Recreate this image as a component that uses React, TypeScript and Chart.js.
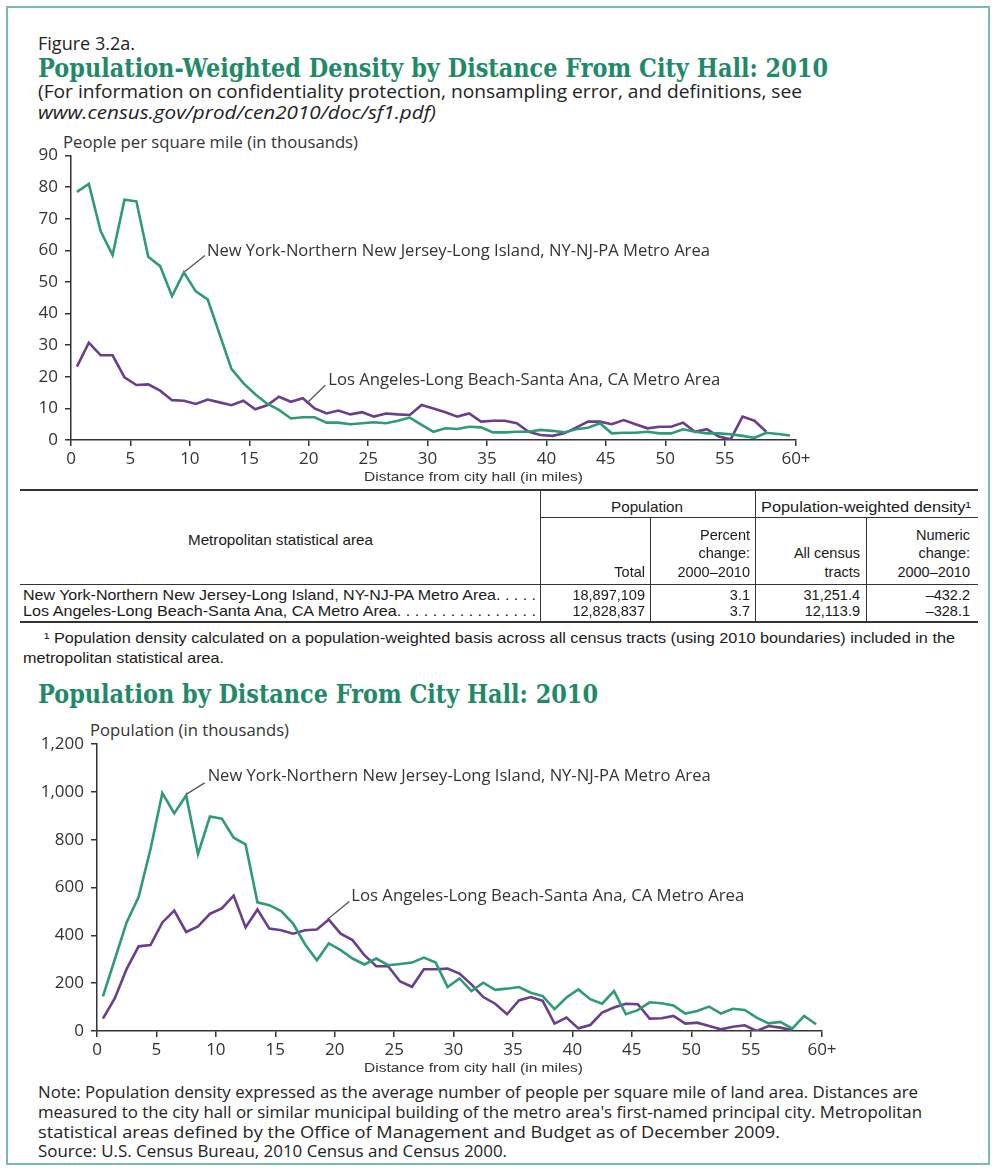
import React, { useEffect, useLayoutEffect, useRef } from "react";
import { Chart, registerables } from "chart.js";

Chart.register(...registerables);

// ---------- data ----------
const distances = [
  0.5, 1.5, 2.5, 3.5, 4.5, 5.5, 6.5, 7.5, 8.5, 9.5,
  10.5, 11.5, 12.5, 13.5, 14.5, 15.5, 16.5, 17.5, 18.5, 19.5,
  20.5, 21.5, 22.5, 23.5, 24.5, 25.5, 26.5, 27.5, 28.5, 29.5,
  30.5, 31.5, 32.5, 33.5, 34.5, 35.5, 36.5, 37.5, 38.5, 39.5,
  40.5, 41.5, 42.5, 43.5, 44.5, 45.5, 46.5, 47.5, 48.5, 49.5,
  50.5, 51.5, 52.5, 53.5, 54.5, 55.5, 56.5, 57.5, 58.5, 59.5,
  60.5,
];

// People per square mile (thousands)
const nyDensity = [
  78.5, 81, 66, 58.5, 76, 75.5, 58, 55, 45.5, 53,
  47, 44.5, 33.5, 22.5, 18, 14.5, 11.5, 9.5, 6.8, 7.2,
  7.2, 5.5, 5.5, 5.0, 5.3, 5.6, 5.3, 6.1, 7.1, 4.8,
  2.6, 3.7, 3.5, 4.2, 4.0, 2.4, 2.4, 2.6, 2.6, 3.2,
  2.9, 2.4, 3.4, 3.9, 5.3, 2.1, 2.3, 2.3, 2.6, 2.1,
  2.1, 3.4, 2.6, 2.1, 2.1, 1.8, 1.3, 0.7, 2.3, 1.9,
  1.4,
];
const laDensity = [
  23.2, 30.8, 26.8, 26.8, 19.8, 17.4, 17.6, 15.6, 12.6, 12.4,
  11.4, 12.8, 11.9, 11.0, 12.4, 9.7, 11.0, 13.7, 12.1, 13.2,
  10.0, 8.4, 9.3, 8.1, 8.8, 7.4, 8.4, 8.1, 7.9, 11.1,
  10.0, 8.8, 7.4, 8.4, 5.8, 6.1, 6.1, 5.3, 2.6, 1.6,
  1.3, 2.1, 3.9, 5.8, 5.8, 5.0, 6.3, 5.0, 3.7, 4.2,
  4.2, 5.5, 2.6, 3.4, 1.1, 0.2, 7.4, 6.1, 2.6,
];

// Population (thousands)
const nyPopulation = [
  145, 300, 455, 560, 760, 995, 910, 985, 740, 897,
  888, 808, 780, 538, 526, 501, 449, 363, 296, 366,
  338, 303, 278, 303, 275, 280, 286, 307, 286, 184,
  220, 167, 202, 172, 177, 184, 160, 146, 91, 140,
  174, 133, 114, 167, 70, 87, 120, 116, 107, 73,
  84, 102, 73, 93, 88, 56, 32, 38, 10, 63,
  28,
];
const laPopulation = [
  52, 137, 260, 354, 359, 454, 503, 414, 437, 490,
  513, 566, 433, 508, 428, 421, 407, 421, 424, 466,
  407, 380, 317, 271, 271, 207, 185, 258, 258, 261,
  240, 195, 142, 114, 70, 128, 142, 126, 31, 56,
  11, 25, 77, 98, 114, 112, 52, 53, 63, 31,
  35, 21, 7, 18, 24, 0, 21, 14, 3,
];

const xTicks = [0, 5, 10, 15, 20, 25, 30, 35, 40, 45, 50, 55, 61];
const xTickLabels = ["0", "5", "10", "15", "20", "25", "30", "35", "40", "45", "50", "55", "60+"];

const nyName = "New York-Northern New Jersey-Long Island, NY-NJ-PA Metro Area";
const laName = "Los Angeles-Long Beach-Santa Ana, CA Metro Area";

// ---------- styles ----------
const GREEN = "#2d9a78";
const PURPLE = "#6a3d8d";
const AXIS = "#333333";
const TITLE_GREEN = "#1f8a6a";
const SANS = "'Open Sans', 'DejaVu Sans', sans-serif";
const NARROW = "'Liberation Sans Narrow', 'Liberation Sans', Arial, sans-serif";
const SERIF = "'DejaVu Serif', serif";

type FitProps = {
  x: number;
  cy: number;
  w?: number;
  align?: "left" | "right" | "center";
  size: number;
  family?: string;
  weight?: string | number;
  italic?: boolean;
  color?: string;
  children: React.ReactNode;
};

function Fit({ x, cy, w, align = "left", size, family = SANS, weight = 400, italic = false, color = "#222", children }: FitProps) {
  const ref = useRef<HTMLDivElement>(null);
  useLayoutEffect(() => {
    const el = ref.current;
    if (!el) return;
    el.style.transform = "none";
    const nw = el.getBoundingClientRect().width;
    if (!(nw > 0)) return;
    const s = w ? w / nw : 1;
    const fw = nw * s;
    const left = align === "left" ? x : align === "right" ? x - fw : x - fw / 2;
    el.style.left = `${left}px`;
    el.style.transform = `scaleX(${s})`;
  });
  return (
    <div
      ref={ref}
      style={{
        position: "absolute",
        left: x,
        top: cy - size * 0.6,
        width: "max-content",
        whiteSpace: "nowrap",
        fontSize: size,
        lineHeight: `${size * 1.2}px`,
        fontFamily: family,
        fontWeight: weight as any,
        fontStyle: italic ? "italic" : "normal",
        color,
        transformOrigin: "left center",
      }}
    >
      {children}
    </div>
  );
}

type Leader = {
  idx: number;
  ds: number;
  sx: number; sy: number;
  ex: number; ey: number;
  tx: number; ty: number;
  tw: number;
  text: string;
};

function leaderPlugin(items: Leader[]) {
  return {
    id: "leaders",
    afterDatasetsDraw(chart: any) {
      const ctx = chart.ctx as CanvasRenderingContext2D;
      const xs = chart.scales.x;
      const ys = chart.scales.y;
      items.forEach((it) => {
        const pt = chart.data.datasets[it.ds].data[it.idx];
        const px = xs.getPixelForValue(pt.x);
        const py = ys.getPixelForValue(pt.y);
        ctx.save();
        ctx.strokeStyle = "#555";
        ctx.lineWidth = 1.3;
        ctx.beginPath();
        ctx.moveTo(px + it.sx, py + it.sy);
        ctx.lineTo(px + it.ex, py + it.ey);
        ctx.stroke();
        ctx.font = `16px ${SANS}`;
        ctx.fillStyle = "#333";
        ctx.textBaseline = "middle";
        ctx.textAlign = "left";
        const m = ctx.measureText(it.text).width;
        ctx.translate(px + it.tx, py + it.ty);
        ctx.scale(it.tw / m, 1);
        ctx.fillText(it.text, 0, 0);
        ctx.restore();
      });
    },
  };
}

type ChartSpec = {
  ny: number[];
  la: number[];
  yMax: number;
  yStep: number;
  yWidth: number;
  xHeight: number;
  padding: { left: number; right: number; top: number; bottom: number };
  yFormat: (v: number) => string;
  leaders: Leader[];
};

function LineChart({ spec, left, top, width, height }: { spec: ChartSpec; left: number; top: number; width: number; height: number }) {
  const ref = useRef<HTMLCanvasElement>(null);
  useEffect(() => {
    if (!ref.current) return;
    const tickFont = { family: SANS, size: 17 };
    const chart = new Chart(ref.current, {
      type: "line",
      data: {
        datasets: [
          {
            data: distances.map((d, i) => ({ x: d, y: spec.ny[i] })),
            borderColor: GREEN,
            borderWidth: 2.6,
            pointRadius: 0,
            tension: 0,
            fill: false,
          },
          {
            data: spec.la.map((v, i) => ({ x: distances[i], y: v })),
            borderColor: PURPLE,
            borderWidth: 2.6,
            pointRadius: 0,
            tension: 0,
            fill: false,
          },
        ],
      },
      options: {
        animation: false,
        responsive: false,
        maintainAspectRatio: false,
        devicePixelRatio: 1,
        layout: { padding: spec.padding },
        plugins: { legend: { display: false }, tooltip: { enabled: false } },
        scales: {
          x: {
            type: "linear",
            min: 0,
            max: 61,
            afterBuildTicks: (s: any) => {
              s.ticks = xTicks.map((v) => ({ value: v }));
            },
            afterFit: (s: any) => {
              s.height = spec.xHeight;
            },
            ticks: {
              autoSkip: false,
              maxRotation: 0,
              font: tickFont,
              color: "#333",
              padding: 3,
              callback: (v: any) => {
                const i = xTicks.indexOf(Number(v));
                return i >= 0 ? xTickLabels[i] : "";
              },
            },
            grid: { display: true, drawOnChartArea: false, drawTicks: true, tickLength: 6, color: AXIS, lineWidth: 1.5 },
            border: { display: true, color: AXIS, width: 1.5 },
          },
          y: {
            type: "linear",
            min: 0,
            max: spec.yMax,
            afterFit: (s: any) => {
              s.width = spec.yWidth;
            },
            ticks: {
              stepSize: spec.yStep,
              font: tickFont,
              color: "#333",
              padding: 7,
              callback: (v: any) => spec.yFormat(Number(v)),
            },
            grid: { display: true, drawOnChartArea: false, drawTicks: true, tickLength: 6, color: AXIS, lineWidth: 1.5 },
            border: { display: true, color: AXIS, width: 1.5 },
          },
        },
      } as any,
      plugins: [leaderPlugin(spec.leaders)],
    });
    return () => chart.destroy();
  }, []);
  return (
    <canvas
      ref={ref}
      width={width}
      height={height}
      style={{ position: "absolute", left, top, width, height, display: "block" }}
    />
  );
}

const densitySpec: ChartSpec = {
  ny: nyDensity,
  la: laDensity,
  yMax: 90,
  yStep: 10,
  yWidth: 50,
  xHeight: 50,
  padding: { left: 1, right: 24, top: 25.5, bottom: 0 },
  yFormat: (v) => String(v),
  leaders: [
    { ds: 0, idx: 9, sx: 1, sy: -1, ex: 21, ey: -17, tx: 23, ty: -21, tw: 503, text: nyName },
    { ds: 1, idx: 19, sx: 4, sy: 5, ex: 22.5, ey: -13, tx: 25.5, ty: -18, tw: 392, text: laName },
  ],
};

const populationSpec: ChartSpec = {
  ny: nyPopulation,
  la: laPopulation,
  yMax: 1200,
  yStep: 200,
  yWidth: 76,
  xHeight: 49,
  padding: { left: 1, right: 18, top: 24, bottom: 0 },
  yFormat: (v) => v.toLocaleString("en-US"),
  leaders: [
    { ds: 0, idx: 7, sx: 0, sy: -1, ex: 18.5, ey: -12.5, tx: 21.5, ty: -18.5, tw: 503, text: nyName },
    { ds: 1, idx: 19, sx: -1.5, sy: 0, ex: 20.5, ey: -18, tx: 22.5, ty: -23.5, tw: 393, text: laName },
  ],
};

function HLine({ x1, x2, y, w = 1 }: { x1: number; x2: number; y: number; w?: number }) {
  return <div style={{ position: "absolute", left: x1, top: y - w / 2, width: x2 - x1, height: w, background: "#333" }} />;
}
function VLine({ x, y1, y2 }: { x: number; y1: number; y2: number }) {
  return <div style={{ position: "absolute", left: x - 0.5, top: y1, width: 1, height: y2 - y1, background: "#333" }} />;
}

export default function App() {
  const T = 14.5;
  const TC = "#1a1a1a";
  const cell = (x: number, cy: number, align: "left" | "right" | "center", text: string, w?: number) => (
    <Fit x={x} cy={cy} w={w} align={align} size={T} family={NARROW} color={TC}>{text}</Fit>
  );
  return (
    <div style={{ position: "absolute", left: 0, top: 0, width: 1000, height: 1174, background: "#fff", overflow: "hidden" }}>
      <div
        style={{
          position: "absolute",
          left: 6,
          top: 6,
          width: 984,
          height: 1159,
          border: "2px solid #78bbb2",
          boxSizing: "border-box",
        }}
      />
      <Fit x={38} cy={43} w={97} size={19}>Figure 3.2a.</Fit>
      <Fit x={38} cy={69} w={790} size={26} family={SERIF} weight={700} color={TITLE_GREEN}>
        Population-Weighted Density by Distance From City Hall: 2010
      </Fit>
      <Fit x={38} cy={92} w={764} size={18}>
        (For information on confidentiality protection, nonsampling error, and definitions, see
      </Fit>
      <Fit x={38} cy={113} w={398} size={18} italic>
        www.census.gov/prod/cen2010/doc/sf1.pdf)
      </Fit>

      <Fit x={63} cy={143} w={295} size={16} color="#333">People per square mile (in thousands)</Fit>
      <LineChart spec={densitySpec} left={20} top={130} width={800} height={360} />
      <Fit x={364} cy={477} w={219} size={13.5} family={NARROW} color="#333">Distance from city hall (in miles)</Fit>

      {/* table */}
      <HLine x1={20} x2={978} y={490} w={2} />
      <HLine x1={540} x2={978} y={517} />
      <HLine x1={20} x2={978} y={584} />
      <HLine x1={20} x2={978} y={622} w={2} />
      <VLine x={540} y1={490} y2={622} />
      <VLine x={755} y1={490} y2={622} />
      <VLine x={650} y1={517} y2={622} />
      <VLine x={866} y1={517} y2={622} />

      {cell(647, 508, "center", "Population", 72)}
      {cell(866, 508, "center", "Population-weighted density¹", 210)}
      {cell(280, 541, "center", "Metropolitan statistical area", 185)}
      {cell(750, 536, "right", "Percent")}
      {cell(750, 554, "right", "change:")}
      {cell(750, 573, "right", "2000–2010")}
      {cell(645, 573, "right", "Total")}
      {cell(860, 554, "right", "All census")}
      {cell(860, 573, "right", "tracts")}
      {cell(970, 536, "right", "Numeric")}
      {cell(970, 554, "right", "change:")}
      {cell(970, 573, "right", "2000–2010")}

      <Fit x={23} cy={596} w={513} size={T} family={NARROW} color={TC}>
        New York-Northern New Jersey-Long Island, NY-NJ-PA Metro Area. . . . .
      </Fit>
      {cell(645, 596, "right", "18,897,109")}
      {cell(750, 596, "right", "3.1")}
      {cell(860, 596, "right", "31,251.4")}
      {cell(970, 596, "right", "–432.2")}

      <Fit x={23} cy={612} w={513} size={T} family={NARROW} color={TC}>
        Los Angeles-Long Beach-Santa Ana, CA Metro Area. . . . . . . . . . . . . . . .
      </Fit>
      {cell(645, 612, "right", "12,828,837")}
      {cell(750, 612, "right", "3.7")}
      {cell(860, 612, "right", "12,113.9")}
      {cell(970, 612, "right", "–328.1")}

      <Fit x={44} cy={639} w={911} size={T} family={NARROW} color={TC}>
        ¹ Population density calculated on a population-weighted basis across all census tracts (using 2010 boundaries) included in the
      </Fit>
      <Fit x={23} cy={659} w={201} size={T} family={NARROW} color={TC}>metropolitan statistical area.</Fit>

      <Fit x={38} cy={695} w={560} size={26} family={SERIF} weight={700} color={TITLE_GREEN}>
        Population by Distance From City Hall: 2010
      </Fit>
      <Fit x={90} cy={731} w={199} size={16} color="#333">Population (in thousands)</Fit>
      <LineChart spec={populationSpec} left={20} top={720} width={820} height={360} />
      <Fit x={364} cy={1068} w={219} size={13.5} family={NARROW} color="#333">Distance from city hall (in miles)</Fit>

      <Fit x={38} cy={1092} w={880} size={16.5}>
        Note: Population density expressed as the average number of people per square mile of land area. Distances are
      </Fit>
      <Fit x={38} cy={1112} w={884} size={16.5}>
        measured to the city hall or similar municipal building of the metro area's first-named principal city. Metropolitan
      </Fit>
      <Fit x={38} cy={1132} w={742} size={16.5}>
        statistical areas defined by the Office of Management and Budget as of December 2009.
      </Fit>
      <Fit x={38} cy={1151} w={469} size={16.5}>
        Source: U.S. Census Bureau, 2010 Census and Census 2000.
      </Fit>
    </div>
  );
}
